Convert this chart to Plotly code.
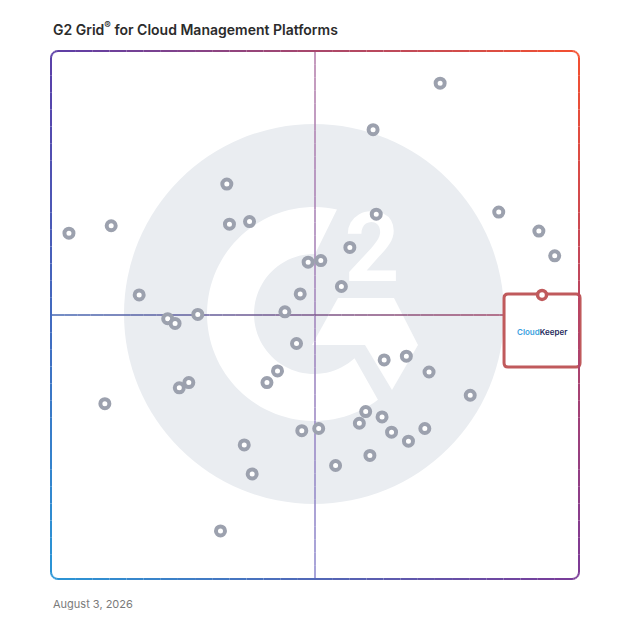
import numpy as np
import plotly.graph_objects as go

# Page geometry (pixels in the browser window; the page body adds an 8px margin)
BODY = 8
W = H = 628 - BODY
L, T, S = 51, 51, 528  # plot left, plot top, plot size (window pixels)

# Data ------------------------------------------------------------
title_text = "G2 Grid<sup>®</sup> for Cloud Management Platforms"
date_text = "August 3, 2026"

# Satisfaction (x) and Market Presence (y), 0-100 scale
sat = [73.7, 61.0, 33.3, 84.8, 33.8, 37.6, 61.6, 92.4, 95.4, 3.4, 11.4,
       56.6, 48.7, 51.1, 55.0, 47.2, 16.7, 44.3, 27.8, 22.1, 23.5, 46.5,
       63.1, 67.3, 71.6, 42.9, 40.9, 26.1, 24.3, 79.4, 10.2, 59.6, 62.7,
       58.4, 47.5, 50.7, 64.5, 70.8, 67.7, 36.6, 60.4, 53.9, 38.1, 32.1]
presence = [93.9, 85.1, 74.8, 69.5, 67.2, 67.7, 69.1, 65.9, 61.2, 65.5, 66.9,
            62.8, 60.0, 60.3, 55.4, 54.0, 53.8, 50.6, 50.1, 49.3, 48.4, 44.6,
            41.5, 42.2, 39.2, 39.4, 37.2, 37.2, 36.2, 34.8, 33.2, 31.7, 30.7,
            29.5, 28.1, 28.5, 27.8, 28.5, 26.1, 25.4, 23.4, 21.5, 19.9, 9.1]

ck_name = "CloudKeeper"
ck_sat = [93.0]
ck_presence = [53.8]

mid_x = 50
mid_y = 50


# Helpers -----------------------------------------------------------
def px(x):
    return (x - L) / S


def py(y):
    return (T + S - y) / S


def data_to_px(x, y):
    return L + x / 100 * S, T + S - y / 100 * S


TL = np.array([91, 62, 168])
TR = np.array([245, 80, 47])
BL = np.array([42, 150, 214])
BR = np.array([122, 58, 152])


def corner_mix(u, v):
    top = TL * (1 - u) + TR * u
    bot = BL * (1 - u) + BR * u
    c = top * (1 - v) + bot * v
    return "rgb(%d,%d,%d)" % tuple(int(round(k)) for k in c)


def lin_mix(c0, c1, t):
    c = np.array(c0) * (1 - t) + np.array(c1) * t
    return "rgb(%d,%d,%d)" % tuple(int(round(k)) for k in c)


def rounded_points(x0, y0, x1, y1, r, n_edge=30, n_arc=6):
    corners = [(x1 - r, y0 + r, -90), (x1 - r, y1 - r, 0),
               (x0 + r, y1 - r, 90), (x0 + r, y0 + r, 180)]
    pts = []
    start = (x0 + r, y0)
    for cx, cy, a0 in corners:
        a_start = (cx + r * np.cos(np.radians(a0)), cy + r * np.sin(np.radians(a0)))
        for t in np.linspace(0, 1, n_edge, endpoint=False):
            pts.append((start[0] + (a_start[0] - start[0]) * t,
                        start[1] + (a_start[1] - start[1]) * t))
        for a in np.linspace(a0, a0 + 90, n_arc, endpoint=False):
            pts.append((cx + r * np.cos(np.radians(a)), cy + r * np.sin(np.radians(a))))
        a_end = a0 + 90
        start = (cx + r * np.cos(np.radians(a_end)), cy + r * np.sin(np.radians(a_end)))
    pts.append(pts[0])
    return pts


def rr_path(x0, y0, x1, y1, r):
    return ("M%f,%f L%f,%f Q%f,%f %f,%f L%f,%f Q%f,%f %f,%f L%f,%f Q%f,%f %f,%f "
            "L%f,%f Q%f,%f %f,%f Z" % (
                px(x0 + r), py(y0), px(x1 - r), py(y0), px(x1), py(y0), px(x1), py(y0 + r),
                px(x1), py(y1 - r), px(x1), py(y1), px(x1 - r), py(y1),
                px(x0 + r), py(y1), px(x0), py(y1), px(x0), py(y1 - r),
                px(x0), py(y0 + r), px(x0), py(y0), px(x0 + r), py(y0)))


def poly_path(points):
    s = "M" + " L".join("%f,%f" % (px(a), py(b)) for a, b in points)
    return s + " Z"


shapes = []

# G2 watermark ------------------------------------------------------
wm_grey = "#eaedf1"
cx, cy, R = 314, 314, 190
shapes.append(dict(type="circle", xref="paper", yref="paper", layer="below",
                   x0=px(cx - R), x1=px(cx + R), y0=py(cy + R), y1=py(cy - R),
                   fillcolor=wm_grey, line=dict(width=0)))

r_out, r_in = 107, 60
ring = []
for a in np.linspace(77.6, 306.7, 80):
    ring.append((cx + r_out * np.cos(np.radians(a)), cy - r_out * np.sin(np.radians(a))))
for a in np.linspace(312.5, 89.0, 60):
    ring.append((cx + r_in * np.cos(np.radians(a)), cy - r_in * np.sin(np.radians(a))))
shapes.append(dict(type="path", xref="paper", yref="paper", layer="below",
                   path=poly_path(ring), fillcolor="white", line=dict(width=0)))

chevron = [(338, 298), (394, 298), (418, 345), (392, 390), (365, 345), (312, 345)]
shapes.append(dict(type="path", xref="paper", yref="paper", layer="below",
                   path=poly_path(chevron), fillcolor="white", line=dict(width=0)))

shapes.append(dict(type="rect", xref="paper", yref="paper", layer="below",
                   x0=px(342), x1=px(402), y0=py(282), y1=py(200),
                   line=dict(width=0), fillcolor="rgba(0,0,0,0)",
                   label=dict(text="2", textposition="middle center",
                              font=dict(family="Roboto", size=96, color="white",
                                        weight=700))))

# Crosshair ---------------------------------------------------------
vx, hy = data_to_px(mid_x, mid_y)
n_seg = 40
for i in range(n_seg):
    t0, t1 = i / n_seg, (i + 1) / n_seg
    shapes.append(dict(type="line", xref="paper", yref="paper", layer="below",
                       x0=px(vx), x1=px(vx), y0=py(T + S * t0), y1=py(T + S * t1),
                       line=dict(color=lin_mix((178, 122, 168), (139, 134, 204), (t0 + t1) / 2),
                                 width=1.5)))
    shapes.append(dict(type="line", xref="paper", yref="paper", layer="below",
                       x0=px(L + S * t0), x1=px(L + S * t1), y0=py(hy), y1=py(hy),
                       line=dict(color=lin_mix((69, 103, 179), (176, 69, 95), (t0 + t1) / 2),
                                 width=1.5)))

# CloudKeeper highlight box ---------------------------------------
ck_x, ck_y = data_to_px(ck_sat[0], ck_presence[0])
box = (ck_x - 38, ck_y - 1, ck_x + 38, ck_y + 72)
shapes.append(dict(type="path", xref="paper", yref="paper", layer="below",
                   path=rr_path(*box, 4), fillcolor="white",
                   line=dict(color="#c05a5c", width=3)))

# Gradient frame ----------------------------------------------------
pts = rounded_points(L, T, L + S, T + S, 7)
for (a0, b0), (a1, b1) in zip(pts[:-1], pts[1:]):
    u = ((a0 + a1) / 2 - L) / S
    v = ((b0 + b1) / 2 - T) / S
    shapes.append(dict(type="line", xref="paper", yref="paper", layer="below",
                       x0=px(a0), x1=px(a1), y0=py(b0), y1=py(b1),
                       line=dict(color=corner_mix(u, v), width=2)))

# Figure ------------------------------------------------------------
fig = go.Figure()
fig.add_trace(go.Scatter(
    x=sat, y=presence, mode="markers", hoverinfo="skip",
    marker=dict(size=9, color="white", line=dict(color="#9ca1ae", width=4)),
))
fig.add_trace(go.Scatter(
    x=ck_sat, y=ck_presence, mode="markers", name=ck_name, hoverinfo="skip",
    marker=dict(size=9, color="white", line=dict(color="#c05a5c", width=3.5)),
))

annotations = [
    dict(xref="paper", yref="paper", x=px(L), y=py(29), xanchor="left", yanchor="middle",
         text=title_text, showarrow=False,
         font=dict(family="Inter", size=14, color="#2b2b2b", weight=600)),
    dict(xref="paper", yref="paper", x=px(L), y=py(604), xanchor="left", yanchor="middle",
         text=date_text, showarrow=False,
         font=dict(family="Inter", size=11, color="#7a7a7a")),
    dict(xref="paper", yref="paper", x=px(ck_x), y=py(ck_y + 37), xanchor="center",
         yanchor="middle", showarrow=False,
         text='<span style="color:#3a9fe0">Cloud</span><span style="color:#1d2a5c">Keeper</span>',
         font=dict(family="Inter", size=8, weight=600)),
]

fig.update_layout(
    width=W, height=H,
    margin=dict(l=L - BODY, r=W - (L - BODY) - S, t=T - BODY, b=H - (T - BODY) - S, pad=0),
    paper_bgcolor="white", plot_bgcolor="white",
    showlegend=False,
    xaxis=dict(range=[0, 100], visible=False, fixedrange=True),
    yaxis=dict(range=[0, 100], visible=False, fixedrange=True),
    shapes=shapes,
    annotations=annotations,
)

fig.write_html("out.html")
